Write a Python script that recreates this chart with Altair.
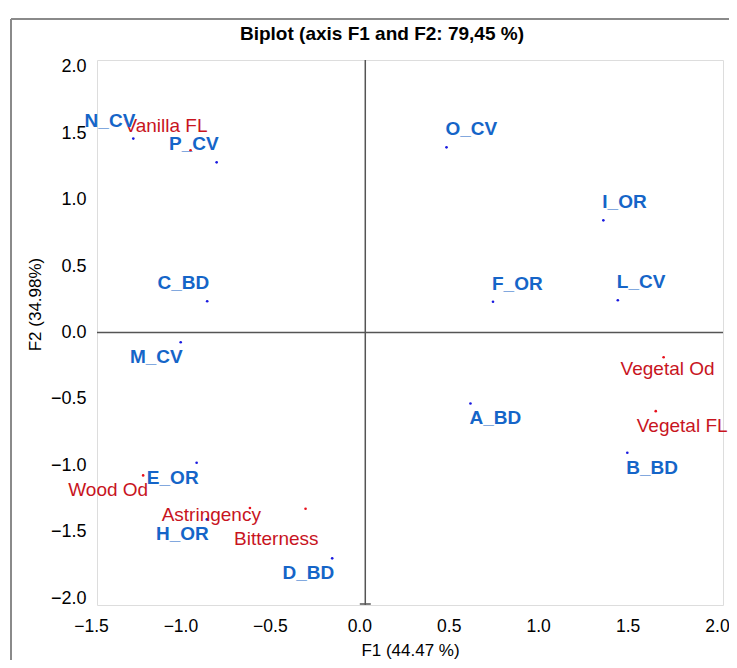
import altair as alt
import pandas as pd

# Observations (blue)
obs_names = ["N_CV", "P_CV", "O_CV", "I_OR", "F_OR", "L_CV", "C_BD", "M_CV",
             "A_BD", "B_BD", "E_OR", "H_OR", "D_BD"]
obs_f1 = [-1.297, -0.831, 0.454, 1.331, 0.714, 1.412, -0.884, -1.032,
          0.588, 1.465, -0.943, -0.886, -0.185]
obs_f2 = [1.459, 1.280, 1.393, 0.844, 0.231, 0.243, 0.235, -0.073,
          -0.534, -0.905, -0.980, -1.406, -1.699]

# Variables (red)
var_names = ["Vanilla FL", "Vegetal Od", "Vegetal FL", "Wood Od", "Astringency", "Bitterness"]
var_f1 = [-0.977, 1.668, 1.624, -1.242, -0.645, -0.334]
var_f2 = [1.371, -0.186, -0.592, -1.075, -1.320, -1.326]

# Label layout for the variables (pixel offsets, alignment)
var_label_align = ["right", "center", "left", "right", "right", "right"]
var_label_dx = [17, 4, -19, 5, 11, 13]
var_label_dy = [-18, 18, 21, 21, 13, 36]

x_ticks = [-1.5, -1.0, -0.5, 0.0, 0.5, 1.0, 1.5, 2.0]
y_ticks = [-2.0, -1.5, -1.0, -0.5, 0.0, 0.5, 1.0, 1.5, 2.0]

TITLE = "Biplot (axis F1 and F2: 79,45 %)"

W, H = 626, 545
FONT = "Liberation Sans"
BLUE_TXT = "#1565c8"
BLUE_DOT = "#1a1ae0"
RED_TXT = "#c8141e"
RED_DOT = "#e8101c"
AXIS_GREY = "#555555"

obs = pd.DataFrame({"name": obs_names, "F1": obs_f1, "F2": obs_f2})
var = pd.DataFrame({"name": var_names, "F1": var_f1, "F2": var_f2,
                    "al": var_label_align, "ldx": var_label_dx, "ldy": var_label_dy})

xs = alt.Scale(domain=[-1.5, 2.0], nice=False, zero=False)
ys = alt.Scale(domain=[-2.05, 2.05], nice=False, zero=False)

x_enc = alt.X("F1:Q", scale=xs, axis=alt.Axis(
    title="F1 (44.47 %)", values=x_ticks, format=".1f", grid=False, domain=False,
    ticks=False, labelPadding=12, labelFontSize=17.5, labelFont=FONT, labelColor="#000",
    labelFlush=False, labelOverlap=False, labelOffset=-6,
    titleFont=FONT, titleFontSize=17, titleFontWeight="normal", titleColor="#000",
    titlePadding=8))
y_enc = alt.Y("F2:Q", scale=ys, axis=alt.Axis(
    title="F2 (34.98%)", values=y_ticks, format=".1f", grid=False, domain=False,
    ticks=False, labelPadding=11, labelFontSize=18, labelFont=FONT, labelColor="#000",
    labelFlush=False, labelOverlap=False,
    titleFont=FONT, titleFontSize=17, titleFontWeight="normal", titleColor="#000",
    titleX=-62, titleY=244, titleAlign="center", titleBaseline="middle", titleAngle=-90))

zero = pd.DataFrame({"v": [0.0]})
hline = alt.Chart(zero).mark_rule(color=AXIS_GREY, strokeWidth=1.5).encode(
    y=alt.Y("v:Q", scale=ys))
vline = alt.Chart(zero).mark_rule(color=AXIS_GREY, strokeWidth=1.5).encode(
    x=alt.X("v:Q", scale=xs))
vcap = alt.Chart(zero).mark_tick(color=AXIS_GREY, orient="horizontal", size=11,
                                 thickness=1.5, opacity=1).encode(
    x=alt.X("v:Q", scale=xs), y=alt.value(H - 1))

obs_pts = alt.Chart(obs).mark_circle(size=7, color=BLUE_DOT, opacity=1).encode(x=x_enc, y=y_enc)
obs_txt = alt.Chart(obs).mark_text(
    font=FONT, fontSize=19, fontWeight="bold", color=BLUE_TXT, baseline="alphabetic",
    align=alt.expr("datum.F1 < 0 ? 'right' : 'left'"),
    dx=alt.expr("datum.F1 < 0 ? 2 : -1"),
    dy=alt.expr("datum.F2 > 0 ? -12 : 21"),
).encode(x=alt.X("F1:Q", scale=xs), y=alt.Y("F2:Q", scale=ys), text="name:N")

var_pts = alt.Chart(var).mark_circle(size=7, color=RED_DOT, opacity=1).encode(
    x=alt.X("F1:Q", scale=xs), y=alt.Y("F2:Q", scale=ys))
var_txt = alt.Chart(var).mark_text(
    font=FONT, fontSize=19, color=RED_TXT, baseline="alphabetic",
    align=alt.expr("datum.al"), dx=alt.expr("datum.ldx"), dy=alt.expr("datum.ldy"),
).encode(x=alt.X("F1:Q", scale=xs), y=alt.Y("F2:Q", scale=ys), text="name:N")

# chart title, drawn as a text mark centred on the figure
title_txt = alt.Chart(pd.DataFrame({"t": [TITLE]})).mark_text(
    font=FONT, fontSize=19, fontWeight="bold", color="#000", align="center",
    baseline="alphabetic").encode(x=alt.value(285), y=alt.value(-20), text="t:N")

# outer figure frame (decoration)
frame_left = alt.Chart(zero).mark_rule(color="#8a8a8a", strokeWidth=2).encode(
    x=alt.value(-86), y=alt.value(-41), y2=alt.value(H + 70))
frame_top = alt.Chart(zero).mark_rule(color="#8a8a8a", strokeWidth=2).encode(
    x=alt.value(-86), x2=alt.value(W + 20), y=alt.value(-41))

chart = alt.layer(
    hline, vline, vcap, obs_pts, var_pts, var_txt, obs_txt, title_txt, frame_left, frame_top
).properties(
    width=W, height=H,
    autosize=alt.AutoSizeParams(type="none"),
    padding={"left": 89, "top": 52, "right": 6, "bottom": 55},
).configure_view(stroke="#d4d4d4", strokeWidth=1.5).configure(background="white")

chart.save("out.html", embed_options={"renderer": "svg", "actions": False})
